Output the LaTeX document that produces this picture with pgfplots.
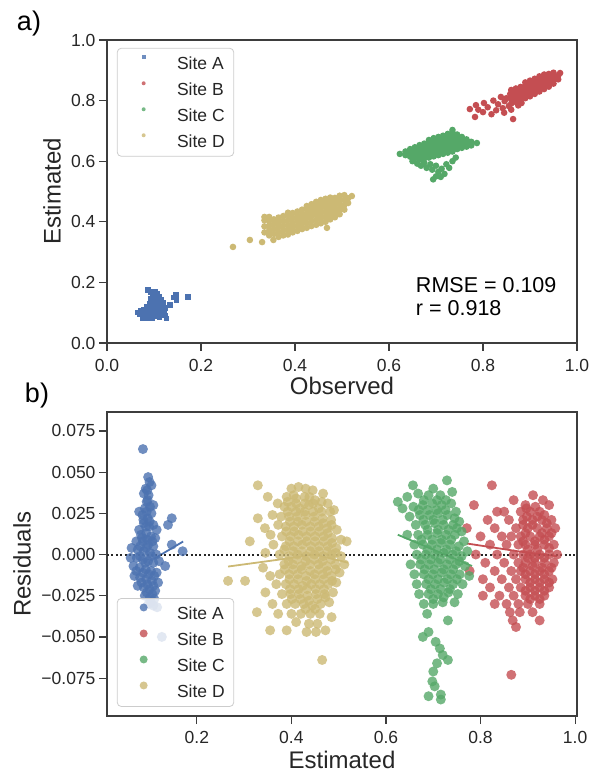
\documentclass[border=0pt]{standalone}
\usepackage{fontspec}
\setmainfont{Liberation Sans}
\usepackage{pgfplots}
\usepackage{pgfplotstable}
\pgfplotsset{compat=1.18}

\definecolor{cA}{HTML}{4C72B0}
\definecolor{cB}{HTML}{C44E52}
\definecolor{cC}{HTML}{55A868}
\definecolor{cD}{HTML}{CCB974}
\definecolor{ink}{HTML}{262626}
\definecolor{spine}{HTML}{3D3D3D}

% ---- panel a: observed vs estimated ----
\pgfplotstableread{
x y
0.066 0.100
0.070 0.094
0.072 0.106
0.075 0.089
0.076 0.082
0.078 0.110
0.080 0.098
0.082 0.088
0.084 0.120
0.085 0.104
0.086 0.080
0.087 0.175
0.088 0.095
0.090 0.130
0.090 0.112
0.092 0.087
0.093 0.168
0.094 0.145
0.095 0.100
0.096 0.122
0.096 0.082
0.098 0.158
0.098 0.091
0.100 0.135
0.100 0.108
0.102 0.150
0.102 0.168
0.103 0.095
0.104 0.125
0.106 0.162
0.106 0.087
0.108 0.115
0.108 0.140
0.110 0.100
0.111 0.152
0.112 0.130
0.112 0.084
0.114 0.092
0.115 0.110
0.116 0.143
0.118 0.120
0.119 0.098
0.120 0.133
0.122 0.105
0.124 0.090
0.125 0.115
0.127 0.080
0.134 0.125
0.142 0.150
0.147 0.158
0.148 0.142
0.172 0.152
}\aA

\pgfplotstableread{
x y
0.772 0.772
0.783 0.746
0.785 0.785
0.790 0.770
0.800 0.762
0.802 0.792
0.810 0.778
0.818 0.755
0.822 0.800
0.828 0.768
0.832 0.788
0.838 0.812
0.842 0.775
0.845 0.760
0.846 0.798
0.850 0.808
0.855 0.782
0.858 0.822
0.860 0.770
0.864 0.739
0.875 0.784
0.882 0.792
0.860 0.790
0.860 0.805
0.860 0.820
0.860 0.835
0.870 0.795
0.870 0.810
0.870 0.825
0.870 0.840
0.880 0.802
0.880 0.816
0.880 0.830
0.880 0.845
0.890 0.808
0.890 0.822
0.890 0.836
0.890 0.850
0.890 0.860
0.900 0.814
0.900 0.828
0.900 0.842
0.900 0.856
0.900 0.866
0.910 0.822
0.910 0.836
0.910 0.850
0.910 0.864
0.910 0.872
0.920 0.830
0.920 0.844
0.920 0.858
0.920 0.872
0.920 0.880
0.930 0.838
0.930 0.852
0.930 0.866
0.930 0.880
0.930 0.886
0.940 0.846
0.940 0.860
0.940 0.874
0.940 0.888
0.950 0.856
0.950 0.870
0.950 0.884
0.950 0.892
0.960 0.870
0.960 0.882
0.964 0.891
}\aB

\pgfplotstableread{
x y
0.623 0.624
0.635 0.620
0.635 0.632
0.645 0.615
0.645 0.628
0.645 0.640
0.655 0.610
0.655 0.622
0.655 0.634
0.655 0.646
0.665 0.605
0.665 0.617
0.665 0.629
0.665 0.641
0.665 0.653
0.675 0.610
0.675 0.622
0.675 0.634
0.675 0.646
0.675 0.658
0.685 0.612
0.685 0.624
0.685 0.636
0.685 0.648
0.685 0.660
0.685 0.670
0.695 0.616
0.695 0.628
0.695 0.640
0.695 0.652
0.695 0.664
0.695 0.676
0.705 0.620
0.705 0.632
0.705 0.644
0.705 0.656
0.705 0.668
0.705 0.680
0.715 0.624
0.715 0.636
0.715 0.648
0.715 0.660
0.715 0.672
0.715 0.684
0.725 0.628
0.725 0.640
0.725 0.652
0.725 0.664
0.725 0.676
0.725 0.690
0.735 0.632
0.735 0.644
0.735 0.656
0.735 0.668
0.735 0.680
0.735 0.695
0.735 0.703
0.745 0.640
0.745 0.652
0.745 0.664
0.745 0.676
0.745 0.688
0.755 0.644
0.755 0.656
0.755 0.668
0.755 0.680
0.765 0.648
0.765 0.660
0.765 0.672
0.775 0.652
0.775 0.664
0.787 0.660
0.650 0.600
0.660 0.592
0.668 0.585
0.675 0.595
0.680 0.578
0.688 0.590
0.692 0.572
0.700 0.585
0.705 0.565
0.694 0.540
0.712 0.575
0.718 0.558
0.722 0.590
0.728 0.578
0.735 0.600
0.742 0.612
0.700 0.550
0.710 0.548
}\aC

\pgfplotstableread{
x y
0.268 0.317
0.304 0.340
0.330 0.333
0.354 0.340
0.468 0.380
0.521 0.485
0.335 0.365
0.335 0.385
0.335 0.405
0.335 0.416
0.345 0.355
0.345 0.371
0.345 0.387
0.345 0.403
0.345 0.416
0.355 0.360
0.355 0.376
0.355 0.392
0.355 0.408
0.365 0.350
0.365 0.366
0.365 0.382
0.365 0.398
0.365 0.414
0.375 0.355
0.375 0.371
0.375 0.387
0.375 0.403
0.375 0.419
0.385 0.358
0.385 0.374
0.385 0.390
0.385 0.406
0.385 0.422
0.385 0.430
0.395 0.365
0.395 0.381
0.395 0.397
0.395 0.413
0.395 0.429
0.405 0.370
0.405 0.386
0.405 0.402
0.405 0.418
0.405 0.434
0.415 0.376
0.415 0.392
0.415 0.408
0.415 0.424
0.415 0.440
0.425 0.380
0.425 0.396
0.425 0.412
0.425 0.428
0.425 0.444
0.425 0.452
0.435 0.386
0.435 0.402
0.435 0.418
0.435 0.434
0.435 0.450
0.435 0.458
0.445 0.390
0.445 0.406
0.445 0.422
0.445 0.438
0.445 0.454
0.445 0.466
0.455 0.395
0.455 0.411
0.455 0.427
0.455 0.443
0.455 0.459
0.455 0.472
0.465 0.400
0.465 0.416
0.465 0.432
0.465 0.448
0.465 0.464
0.465 0.476
0.475 0.408
0.475 0.424
0.475 0.440
0.475 0.456
0.475 0.472
0.475 0.480
0.485 0.415
0.485 0.431
0.485 0.447
0.485 0.463
0.485 0.479
0.495 0.425
0.495 0.441
0.495 0.457
0.495 0.473
0.495 0.486
0.505 0.440
0.505 0.456
0.505 0.472
0.505 0.488
0.513 0.462
0.513 0.478
}\aD

% ---- panel b: residuals vs estimated ----
\pgfplotstableread{
x y
0.086 0.064
0.097 0.047
0.100 0.044
0.104 0.042
0.092 0.040
0.088 0.037
0.098 0.036
0.094 0.032
0.090 0.028
0.101 0.029
0.108 0.030
0.085 0.024
0.096 0.022
0.104 0.025
0.078 0.026
0.088 0.019
0.099 0.017
0.108 0.018
0.078 0.015
0.115 0.015
0.082 0.012
0.093 0.013
0.103 0.011
0.112 0.010
0.072 0.008
0.086 0.008
0.097 0.006
0.108 0.005
0.062 0.004
0.075 0.003
0.088 0.002
0.101 0.001
0.114 0.000
0.060 -0.002
0.073 -0.002
0.086 -0.003
0.097 -0.004
0.108 -0.005
0.120 -0.004
0.066 -0.007
0.079 -0.008
0.092 -0.009
0.103 -0.010
0.115 -0.011
0.068 -0.013
0.080 -0.014
0.093 -0.015
0.105 -0.016
0.118 -0.017
0.075 -0.019
0.088 -0.020
0.100 -0.021
0.112 -0.022
0.090 -0.025
0.101 -0.026
0.110 -0.027
0.098 -0.030
0.108 -0.031
0.116 -0.032
0.147 0.022
0.139 0.018
0.147 0.006
0.170 0.002
0.133 -0.007
0.126 -0.050
0.095 0.039
0.096 0.033
0.094 0.026
0.087 0.021
0.100 0.020
0.092 0.017
0.084 0.010
0.095 0.009
0.106 0.008
0.080 0.005
0.093 0.004
0.104 -0.001
0.080 -0.001
0.091 -0.005
0.072 -0.010
0.086 -0.011
0.098 -0.012
0.110 -0.013
0.083 -0.017
0.095 -0.018
0.108 -0.019
0.094 -0.023
0.106 -0.024
0.103 -0.029
}\bA

\pgfplotstableread{
x y
0.824 0.042
0.911 0.036
0.932 0.033
0.870 0.033
0.786 0.030
0.895 0.030
0.945 0.030
0.835 0.026
0.850 0.026
0.885 0.026
0.905 0.026
0.925 0.026
0.815 0.021
0.860 0.021
0.890 0.021
0.910 0.021
0.930 0.021
0.950 0.021
0.771 0.016
0.830 0.016
0.875 0.016
0.900 0.016
0.920 0.016
0.940 0.016
0.958 0.016
0.800 0.011
0.845 0.011
0.865 0.011
0.885 0.011
0.905 0.011
0.925 0.011
0.945 0.011
0.820 0.006
0.855 0.006
0.880 0.006
0.895 0.006
0.915 0.006
0.935 0.006
0.955 0.006
0.790 0.000
0.835 0.000
0.870 0.000
0.890 0.000
0.905 0.000
0.925 0.000
0.945 0.000
0.962 0.000
0.810 -0.005
0.850 -0.005
0.880 -0.005
0.895 -0.005
0.915 -0.005
0.935 -0.005
0.955 -0.005
0.777 -0.010
0.830 -0.010
0.865 -0.010
0.885 -0.010
0.905 -0.010
0.925 -0.010
0.945 -0.010
0.805 -0.015
0.845 -0.015
0.875 -0.015
0.895 -0.015
0.915 -0.015
0.935 -0.015
0.952 -0.015
0.820 -0.020
0.860 -0.020
0.885 -0.020
0.905 -0.020
0.925 -0.020
0.945 -0.020
0.805 -0.025
0.840 -0.025
0.870 -0.025
0.895 -0.025
0.915 -0.025
0.935 -0.025
0.830 -0.030
0.855 -0.030
0.880 -0.030
0.900 -0.030
0.925 -0.030
0.862 -0.035
0.883 -0.035
0.910 -0.035
0.868 -0.040
0.925 -0.040
0.875 -0.044
0.865 -0.073
0.897 0.028
0.916 0.029
0.935 0.024
0.898 0.023
0.920 0.023
0.940 0.019
0.890 0.018
0.910 0.018
0.930 0.013
0.950 0.013
0.895 0.013
0.915 0.008
0.935 0.009
0.890 0.008
0.945 0.004
0.900 0.003
0.920 0.003
0.915 -0.002
0.935 -0.002
0.900 -0.002
0.890 -0.008
0.910 -0.007
0.930 -0.008
0.950 -0.008
0.895 -0.012
0.915 -0.012
0.935 -0.012
0.905 -0.017
0.925 -0.017
0.945 -0.017
0.895 -0.022
0.915 -0.022
0.935 -0.022
0.905 -0.027
0.925 -0.027
}\bB

\pgfplotstableread{
x y
0.657 0.042
0.729 0.045
0.700 0.040
0.740 0.038
0.625 0.032
0.645 0.035
0.668 0.037
0.690 0.036
0.715 0.036
0.738 0.031
0.635 0.028
0.658 0.029
0.678 0.030
0.698 0.031
0.718 0.030
0.748 0.026
0.650 0.023
0.672 0.024
0.692 0.024
0.710 0.025
0.730 0.024
0.755 0.020
0.663 0.018
0.683 0.018
0.703 0.019
0.722 0.018
0.742 0.018
0.760 0.014
0.645 0.012
0.668 0.012
0.688 0.012
0.708 0.013
0.727 0.012
0.746 0.012
0.765 0.008
0.660 0.006
0.678 0.006
0.697 0.006
0.716 0.007
0.735 0.006
0.754 0.005
0.772 0.002
0.665 0.000
0.684 0.000
0.703 0.000
0.722 0.001
0.741 0.000
0.760 -0.001
0.652 -0.006
0.672 -0.006
0.691 -0.006
0.710 -0.005
0.729 -0.006
0.748 -0.006
0.767 -0.007
0.660 -0.012
0.680 -0.012
0.699 -0.012
0.718 -0.011
0.737 -0.012
0.756 -0.012
0.776 -0.013
0.665 -0.018
0.685 -0.018
0.704 -0.018
0.723 -0.017
0.742 -0.018
0.762 -0.018
0.670 -0.024
0.690 -0.024
0.710 -0.024
0.732 -0.023
0.752 -0.024
0.680 -0.030
0.700 -0.030
0.720 -0.029
0.745 -0.029
0.687 -0.036
0.731 -0.040
0.678 -0.050
0.690 -0.047
0.705 -0.053
0.714 -0.057
0.720 -0.061
0.731 -0.064
0.708 -0.066
0.700 -0.071
0.698 -0.077
0.703 -0.080
0.690 -0.086
0.716 -0.085
0.716 -0.088
0.680 0.033
0.708 0.033
0.727 0.033
0.669 0.027
0.688 0.027
0.707 0.027
0.726 0.027
0.745 0.022
0.679 0.021
0.700 0.021
0.720 0.021
0.688 0.015
0.710 0.015
0.732 0.015
0.750 0.016
0.675 0.009
0.698 0.009
0.718 0.009
0.738 0.009
0.688 0.003
0.708 0.003
0.728 0.003
0.748 0.002
0.675 -0.003
0.695 -0.003
0.715 -0.003
0.735 -0.003
0.755 -0.004
0.682 -0.009
0.702 -0.009
0.722 -0.009
0.742 -0.009
0.690 -0.015
0.710 -0.015
0.730 -0.015
0.750 -0.015
0.695 -0.021
0.715 -0.021
0.735 -0.021
0.700 -0.027
0.722 -0.026
}\bC

\pgfplotstableread{
x y
0.329 0.042
0.350 0.035
0.371 0.031
0.400 0.040
0.415 0.041
0.430 0.040
0.445 0.039
0.467 0.037
0.390 0.035
0.410 0.034
0.428 0.035
0.450 0.033
0.477 0.031
0.385 0.029
0.400 0.029
0.418 0.028
0.437 0.030
0.458 0.028
0.490 0.027
0.329 0.022
0.360 0.024
0.378 0.023
0.395 0.023
0.412 0.023
0.430 0.024
0.448 0.023
0.466 0.022
0.484 0.021
0.344 0.016
0.372 0.018
0.388 0.017
0.405 0.017
0.422 0.018
0.440 0.017
0.458 0.017
0.476 0.016
0.496 0.015
0.356 0.012
0.380 0.011
0.398 0.011
0.415 0.012
0.432 0.011
0.450 0.011
0.468 0.011
0.486 0.010
0.505 0.009
0.312 0.008
0.362 0.006
0.388 0.005
0.405 0.005
0.423 0.006
0.441 0.005
0.459 0.005
0.477 0.005
0.495 0.004
0.517 0.008
0.345 0.001
0.375 0.000
0.395 -0.001
0.413 0.000
0.431 -0.001
0.449 0.000
0.467 -0.001
0.485 0.000
0.505 -0.001
0.385 -0.006
0.403 -0.006
0.421 -0.007
0.439 -0.006
0.457 -0.006
0.475 -0.007
0.493 -0.006
0.512 -0.006
0.340 -0.008
0.355 -0.013
0.375 -0.012
0.395 -0.012
0.413 -0.012
0.431 -0.013
0.449 -0.012
0.467 -0.012
0.485 -0.013
0.502 -0.011
0.266 -0.016
0.302 -0.016
0.368 -0.018
0.388 -0.018
0.406 -0.018
0.424 -0.019
0.442 -0.018
0.460 -0.018
0.478 -0.018
0.495 -0.017
0.345 -0.023
0.380 -0.024
0.398 -0.024
0.416 -0.024
0.434 -0.025
0.452 -0.024
0.470 -0.024
0.488 -0.023
0.360 -0.030
0.390 -0.030
0.408 -0.030
0.426 -0.030
0.444 -0.031
0.462 -0.030
0.480 -0.029
0.327 -0.035
0.372 -0.036
0.400 -0.036
0.420 -0.036
0.440 -0.036
0.460 -0.036
0.485 -0.038
0.410 -0.041
0.437 -0.042
0.455 -0.042
0.355 -0.046
0.390 -0.046
0.432 -0.047
0.452 -0.047
0.472 -0.046
0.465 -0.064
0.405 0.036
0.438 0.035
0.392 0.032
0.410 0.031
0.428 0.031
0.446 0.031
0.464 0.032
0.392 0.026
0.410 0.026
0.428 0.026
0.446 0.026
0.464 0.026
0.482 0.026
0.397 0.020
0.414 0.020
0.431 0.020
0.449 0.020
0.467 0.019
0.485 0.018
0.389 0.014
0.406 0.014
0.424 0.014
0.441 0.014
0.459 0.014
0.477 0.013
0.396 0.008
0.414 0.008
0.432 0.008
0.450 0.008
0.468 0.008
0.486 0.007
0.385 0.003
0.404 0.002
0.422 0.002
0.440 0.002
0.458 0.002
0.476 0.002
0.494 0.001
0.394 -0.004
0.412 -0.003
0.430 -0.004
0.448 -0.003
0.466 -0.004
0.484 -0.003
0.386 -0.009
0.404 -0.009
0.422 -0.009
0.440 -0.010
0.458 -0.009
0.476 -0.010
0.494 -0.009
0.396 -0.015
0.414 -0.015
0.432 -0.016
0.450 -0.015
0.468 -0.015
0.486 -0.016
0.397 -0.021
0.415 -0.021
0.433 -0.021
0.451 -0.021
0.469 -0.021
0.401 -0.027
0.419 -0.027
0.437 -0.028
0.455 -0.027
0.472 -0.026
0.430 -0.033
0.450 -0.033
}\bD

\pgfplotsset{
  panel/.style={
    scale only axis, width=470pt,
    axis line style={spine, line width=1.2pt},
    tick align=outside, major tick length=8pt,
    tick style={spine, line width=1.2pt},
    xtick pos=bottom, ytick pos=left,
    scaled x ticks=false, scaled y ticks=false,
    tick label style={font=\fontsize{17.5}{20}\selectfont, text=ink},
    label style={font=\fontsize{24}{28}\selectfont, text=ink},
    legend cell align=left,
    legend style={draw=black!20, line width=0.8pt, rounded corners=4pt,
      fill=white, fill opacity=0.8, text opacity=1, draw opacity=1,
      inner xsep=9pt, inner ysep=2pt,
      font=\fontsize{17.5}{20}\selectfont, text=ink,
      nodes={inner sep=0pt, text height=19pt, text depth=7pt}},
  },
}

\begin{document}
\begin{tikzpicture}
\useasboundingbox (0,0) rectangle (597pt,776pt);

\begin{axis}[panel, at={(107pt,433pt)}, anchor=south west, height=303pt,
  xmin=0, xmax=1, ymin=0, ymax=1,
  xtick={0,0.2,0.4,0.6,0.8,1}, xticklabels={0.0,0.2,0.4,0.6,0.8,1.0},
  ytick={0,0.2,0.4,0.6,0.8,1}, yticklabels={0.0,0.2,0.4,0.6,0.8,1.0},
  xticklabel style={yshift=-5pt},
  xlabel={Observed}, ylabel={Estimated},
  xlabel style={at={(axis description cs:0.5,-0.142)}, anchor=center},
  ylabel style={at={(axis description cs:-0.117,0.5)}, anchor=center},
  legend style={at={(0.021,0.974)}, anchor=north west},
  legend image code/.code={\path (0pt,0pt) (50pt,0pt);
    \draw[#1, mark size=2pt] plot coordinates {(17pt,6pt)};},
]
\addplot[only marks, color=cA, mark=square*, mark size=2.7pt, mark options={draw opacity=0}] table {\aA};
\addplot[only marks, color=cB, mark=*, mark size=3.3pt, mark options={draw opacity=0}] table {\aB};
\addplot[only marks, color=cC, mark=*, mark size=3.3pt, mark options={draw opacity=0}] table {\aC};
\addplot[only marks, color=cD, mark=*, mark size=3.3pt, mark options={draw opacity=0}] table {\aD};
\legend{Site A, Site B, Site C, Site D}
\node[anchor=west, inner sep=0pt, font=\fontsize{21.5}{24}\selectfont, text=black]
  at (axis cs:0.657,0.191) {RMSE = 0.109};
\node[anchor=west, inner sep=0pt, font=\fontsize{21.5}{24}\selectfont, text=black]
  at (axis cs:0.657,0.116) {r = 0.918};
\end{axis}

\begin{axis}[panel, at={(107pt,60pt)}, anchor=south west, height=304pt,
  xmin=0.01, xmax=1.004, ymin=-0.098, ymax=0.0865,
  xtick={0.2,0.4,0.6,0.8,1}, xticklabels={0.2,0.4,0.6,0.8,1.0},
  ytick={-0.075,-0.05,-0.025,0,0.025,0.05,0.075},
  yticklabels={−0.075,−0.050,−0.025,0.000,0.025,0.050,0.075},
  xticklabel style={yshift=-4pt},
  xlabel={Estimated}, ylabel={Residuals},
  xlabel style={at={(axis description cs:0.5,-0.145)}, anchor=center},
  ylabel style={at={(axis description cs:-0.181,0.5)}, anchor=center},
  legend style={at={(0.021,0.030)}, anchor=south west},
  legend image code/.code={\path (0pt,0pt) (50pt,0pt);
    \draw[#1, mark size=4pt] plot coordinates {(17pt,6pt)};},
]
\addplot[only marks, color=cA, mark=*, mark size=5pt, mark options={draw opacity=0, fill opacity=0.8}] table {\bA};
\addplot[only marks, color=cB, mark=*, mark size=5pt, mark options={draw opacity=0, fill opacity=0.8}] table {\bB};
\addplot[only marks, color=cC, mark=*, mark size=5pt, mark options={draw opacity=0, fill opacity=0.8}] table {\bC};
\addplot[only marks, color=cD, mark=*, mark size=5pt, mark options={draw opacity=0, fill opacity=0.8}] table {\bD};
\legend{Site A, Site B, Site C, Site D}
\addplot[cA, line width=1.8pt, forget plot] coordinates {(0.110,-0.0025) (0.171,0.0079)};
\addplot[cD, line width=1.8pt, forget plot] coordinates {(0.266,-0.0073) (0.376,-0.003) (0.45,0.0) (0.52,-0.005)};
\addplot[cC, line width=1.8pt, forget plot] coordinates {(0.625,0.012) (0.70,0.003) (0.782,-0.007)};
\addplot[cB, line width=1.8pt, forget plot] coordinates {(0.771,0.0067) (0.883,0.0018) (0.962,-0.001)};
\addplot[black!85, line width=2pt, dash pattern=on 2pt off 2.4pt, forget plot] coordinates {(0.01,0) (1.004,0)};
\end{axis}

\node[font=\fontsize{27}{30}\selectfont, text=black] at (29pt,752pt) {a)};
\node[font=\fontsize{27}{30}\selectfont, text=black] at (37pt,380pt) {b)};
\end{tikzpicture}
\end{document}
